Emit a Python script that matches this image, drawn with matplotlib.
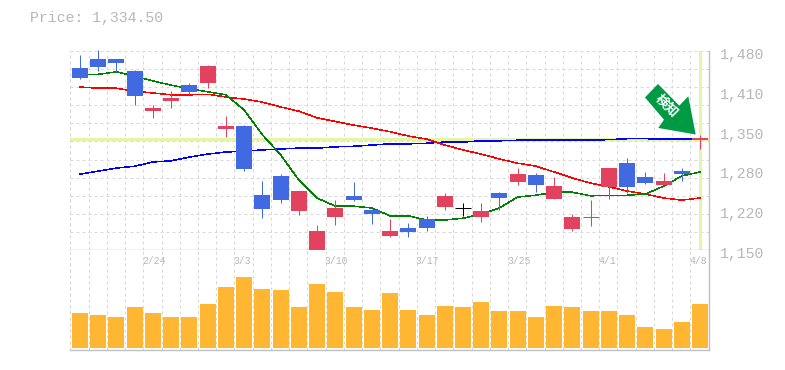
#Price chart with moving averages and volume
import numpy as np
import matplotlib
matplotlib.use("Agg")
import matplotlib.pyplot as plt
from matplotlib.patches import Polygon
from matplotlib.transforms import Affine2D, ScaledTranslation

plt.rcParams['font.family'] = ['Liberation Mono', 'Noto Sans CJK JP', 'DejaVu Sans']

#Daily values
opens = [1451, 1466, 1466, 1446, 1380, 1397, 1423, 1427, 1351, 1355.5, 1241, 1273, 1215, 1147, 1205, 1240, 1217, 1174,
         1187, 1202, 1222, 1220, 1205, 1245, 1263, 1274.5, 1235, 1185, 1205, 1255, 1294, 1271, 1258, 1281, 1332]
closes = [1435, 1453, 1460, 1405, 1385, 1402, 1412, 1455, 1355.5, 1284, 1218, 1233, 1248, 1182, 1220, 1233, 1210, 1182,
          1180, 1187, 1240, 1220, 1215, 1236.5, 1276, 1258, 1256, 1205, 1205, 1286, 1255, 1261, 1265, 1276, 1336]
highs = [1473, 1481, 1466, 1448, 1390, 1413, 1427, 1456, 1372, 1357, 1265, 1276, 1248, 1192, 1233, 1263, 1218, 1202,
         1195, 1207, 1245, 1228, 1228, 1246, 1286, 1278, 1271, 1210, 1233, 1286, 1303, 1279.5, 1278, 1286, 1341]
lows = [1433, 1446, 1445, 1390, 1369, 1385, 1408, 1418, 1337, 1281, 1203, 1228, 1208, 1147, 1192, 1232, 1193, 1172,
        1172, 1182, 1217, 1207, 1197, 1217, 1258, 1246, 1235, 1182, 1190, 1235, 1245, 1260, 1258, 1265, 1317.5]
ma_short = [1440, 1441, 1445, 1438, 1430, 1423, 1417, 1412, 1407, 1382, 1341, 1308, 1266, 1236.5, 1223, 1223, 1220, 1207,
            1207, 1200, 1200, 1203, 1210, 1220, 1238, 1241, 1246, 1246, 1240, 1241, 1241, 1243, 1256, 1273, 1279.5]
ma_mid = [1420, 1418, 1418, 1413, 1410, 1407, 1407, 1408, 1403.5, 1400, 1395, 1387, 1380, 1369, 1363, 1357, 1352, 1346,
          1339, 1334, 1324, 1316, 1309, 1301, 1294, 1289, 1279.5, 1269.5, 1261, 1255, 1248, 1243, 1236.5, 1233, 1236.5]
ma_long = [1276, 1281, 1286, 1289, 1296, 1298, 1304, 1309, 1312.5, 1314, 1316, 1317.5, 1319, 1319, 1321, 1322, 1324, 1326,
           1326, 1327, 1329, 1329, 1331, 1331, 1332, 1332, 1332, 1332, 1332, 1333, 1334.5, 1334.5, 1334, 1334, 1334]
volume = [35, 33, 31, 41, 35, 31, 31, 44, 61, 71, 59, 58, 41, 64, 56, 41, 38, 55,
          38, 33, 42, 41, 46, 37, 37, 31, 42, 41, 37, 37, 33, 21, 19, 26, 44]

price = 1334.5
price_text = "Price: 1,334.50"
price_ticks = [1150, 1216, 1282, 1348, 1414, 1480]
price_labels = ["1,150", "1,220", "1,280", "1,350", "1,410", "1,480"]
date_pos = [4, 9, 14, 19, 24, 29, 34]
date_labels = ["2/24", "3/3", "3/10", "3/17", "3/25", "4/1", "4/8"]

BLUE = "#4169e1"
RED = "#e3425f"
GRID = "#d8d8d8"
EDGE = "#c0c0c0"
TEXT = "#b8b8b8"
MARK = "#e4f5a8"
W, H = 785, 370
PX = 0.72  # one pixel in points

fig = plt.figure(figsize=(W / 100, H / 100), dpi=100)
x0, x1 = 70.3, 709
ax = fig.add_axes([x0 / W, 1 - 250.3 / H, (x1 - x0) / W, 199.6 / H])
ax2 = fig.add_axes([x0 / W, 1 - 350.3 / H, (x1 - x0) / W, 100 / H])

n = len(opens)
x = np.arange(n)
grid_x = x - 0.53
xlim = (-0.532, 34.49)

#Grid and frame of both panels
for a in (ax, ax2):
    a.set_xlim(*xlim)
    a.set_xticks(grid_x)
    a.tick_params(axis="x", length=0, labelbottom=False)
    a.grid(True, axis="x", color=GRID, lw=PX, dashes=(3, 3))
    a.set_axisbelow(True)
    for s in ("top", "left"):
        a.spines[s].set_visible(False)
    for s in ("bottom", "right"):
        a.spines[s].set_color(EDGE)
        a.spines[s].set_linewidth(1.4 * PX)

ax.set_ylim(1150, 1480)
ax.set_yticks(np.arange(1150, 1481, 30), minor=True)
ax.grid(True, axis="y", which="minor", color=GRID, lw=PX, dashes=(3, 3))
ax.plot(xlim, [1480, 1480], color=GRID, lw=PX, dashes=(3, 3), zorder=1)
ax.axvline(xlim[0], color=GRID, lw=PX, dashes=(3, 3), zorder=1)
ax2.axvline(xlim[0], color=GRID, lw=PX, dashes=(3, 3), zorder=1)
ax.yaxis.tick_right()
ax.set_yticks(price_ticks, price_labels)
ax.tick_params(axis="y", which="both", length=0, pad=7.8, labelsize=10.7, labelcolor=TEXT)
for lab in ax.get_yticklabels():
    lab.set_transform(lab.get_transform() + ScaledTranslation(0, -2.5 / 100, fig.dpi_scale_trans))

#Current price cross
ax.axhline(price, color=MARK, lw=3 * PX, zorder=2)
ax.axvline(n - 1, color=MARK, lw=3 * PX, zorder=2)

#Moving averages
ax.plot(x, ma_long, color="#0000ff", lw=0.5 * PX, zorder=3, antialiased=False)
ax.plot(x, ma_mid, color="#ff0000", lw=0.5 * PX, zorder=3, antialiased=False)
ax.plot(x, ma_short, color="#008000", lw=0.5 * PX, zorder=3, antialiased=False)

#Candles
for i in range(n):
    o, c = opens[i], closes[i]
    col = RED if c > o else BLUE
    if c == o:
        col = "#000000" if i == 21 else RED
    ax.vlines(i, lows[i], highs[i], color=col, lw=PX, zorder=4, clip_on=False)
    if c == o:
        ax.hlines(o, i - 0.44, i + 0.44, color=col, lw=PX, zorder=4)
    else:
        ax.bar(i, abs(c - o), bottom=min(o, c), width=0.877, color=col, lw=0, zorder=4, clip_on=False)

#Signal arrow, its outline in pixels from the tip
tip = ax.transData.transform((33.76, 1341.5))
arrow = [(0, 0), (-37.4, 6.5), (-31.7, 14.8), (-50.7, 37), (-37.7, 50.5), (-16.4, 28.8), (-7.4, 38.2)]
ax.add_patch(Polygon(arrow, closed=True, facecolor="#009944", edgecolor="none", zorder=6, clip_on=False,
                     transform=Affine2D().translate(*tip)))
fig.text(666.7 / W, 1 - 105.8 / H, "検知", color="white", fontsize=9.5, fontweight="bold", rotation=-45,
         rotation_mode="anchor", ha="center", va="center", zorder=7, family=['Noto Sans CJK JP', 'DejaVu Sans'])

#Volume
ax2.set_ylim(-2.3, 97.7)
ax2.set_yticks([])
ax2.bar(x, volume, width=0.877, color="#ffb733", lw=0, zorder=3)
for p, lab in zip(date_pos, date_labels):
    ax2.text(p - 0.58, 86.5, lab, color=TEXT, fontsize=7, ha="left", va="center")

fig.text(30 / W, 1 - 18 / H, price_text, color=TEXT, fontsize=10.75, ha="left", va="center")

fig.savefig("out.png", dpi=100)
